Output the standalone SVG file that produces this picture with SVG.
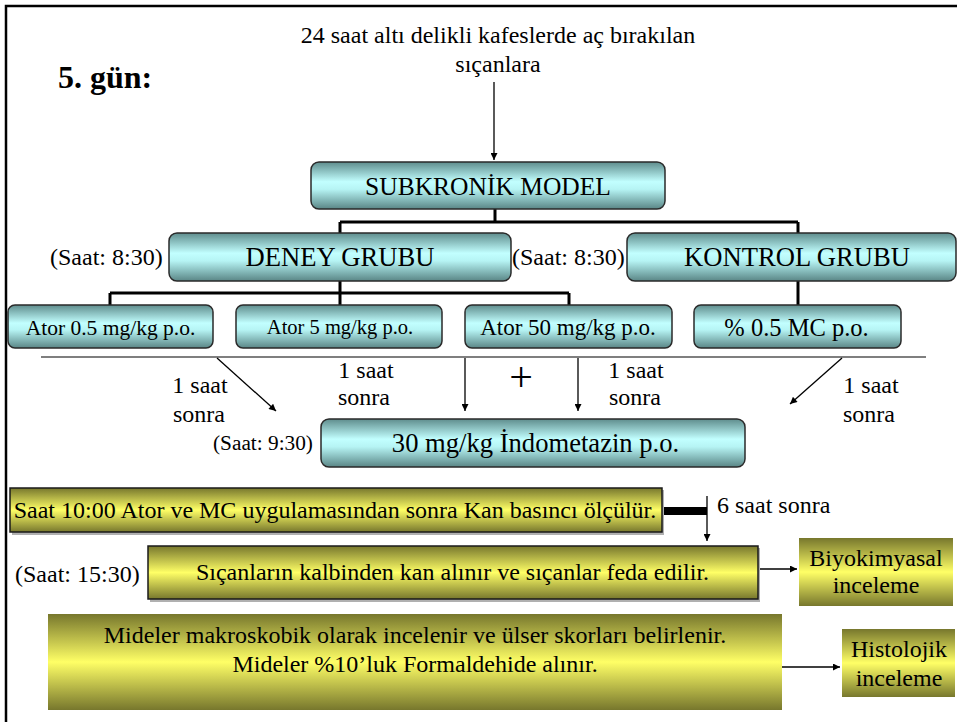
<svg xmlns="http://www.w3.org/2000/svg" width="957" height="722" viewBox="0 0 957 722">
<style>
text{font-family:"Liberation Serif","DejaVu Serif",serif;fill:#000}
.c{text-anchor:middle}
.tb{stroke:#2a2a2a;stroke-width:1.5;fill:url(#teal)}
.yb{stroke:#1a1a1a;stroke-width:1.5;fill:url(#yel)}
.yn{fill:url(#yel)}
.sh{fill:#b0b0b0}
.tree{stroke:#000;stroke-width:3;fill:none}
.ar{stroke:#000;stroke-width:1.3;fill:none;marker-end:url(#arr)}
</style>
<defs>
<linearGradient id="teal" x1="0" y1="0" x2="0" y2="1">
<stop offset="0" stop-color="#5f8d8d"/>
<stop offset="0.42" stop-color="#c2ffff"/>
<stop offset="0.58" stop-color="#b6f4f4"/>
<stop offset="1" stop-color="#5a8686"/>
</linearGradient>
<linearGradient id="yel" x1="0" y1="0" x2="0" y2="1">
<stop offset="0" stop-color="#77772d"/>
<stop offset="0.5" stop-color="#ffff66"/>
<stop offset="1" stop-color="#77772d"/>
</linearGradient>
<marker id="arr" viewBox="0 0 10 10" refX="10" refY="5" markerWidth="8" markerHeight="7" markerUnits="userSpaceOnUse" orient="auto">
<path d="M0,0 L10,5 L0,10 z" fill="#000"/>
</marker>
</defs>
<rect x="6" y="6" width="1000" height="800" fill="none" stroke="#000" stroke-width="2.5"/>

<g id="connectors">
<line class="ar" x1="494" y1="82" x2="494" y2="160"/>
<path class="tree" d="M495,209 V222 M340,222 H798 M340,222 V233 M798,222 V233"/>
<path class="tree" d="M340,281 V293 M110,293 H569 M110,293 V305 M340,293 V305 M569,293 V305"/>
<path class="tree" d="M798,281 V305"/>
<line x1="41" y1="357" x2="926" y2="357" stroke="#555" stroke-width="1.3"/>
<line class="ar" x1="217" y1="358" x2="276" y2="411"/>
<line class="ar" x1="465" y1="358" x2="465" y2="411"/>
<line class="ar" x1="578" y1="358" x2="578" y2="411"/>
<line class="ar" x1="842" y1="358" x2="790" y2="404"/>
<rect x="662" y="507" width="45" height="8" fill="#000"/>
<line class="ar" x1="707" y1="496" x2="707" y2="541"/>
<line class="ar" x1="758" y1="569" x2="797" y2="569"/>
<line class="ar" x1="782" y1="667" x2="840" y2="667"/>
</g>

<g id="title"><text x="58" y="88" font-size="32" font-weight="bold">5. gün:</text></g>
<g id="intro">
<text class="c" x="498" y="43" font-size="24">24 saat altı delikli kafeslerde aç bırakılan</text>
<text class="c" x="498" y="72" font-size="24">sıçanlara</text>
</g>
<g id="subkronik"><rect class="tb" x="311" y="162" width="354" height="47" rx="8"/><text class="c" x="488" y="195" font-size="25.5">SUBKRONİK MODEL</text></g>
<g id="saat830a"><text x="50" y="265" font-size="24">(Saat: 8:30)</text></g>
<g id="deney"><rect class="tb" x="169" y="233" width="342" height="48" rx="8"/><text class="c" x="340" y="266" font-size="26.6">DENEY GRUBU</text></g>
<g id="saat830b"><text x="512" y="265" font-size="24">(Saat: 8:30)</text></g>
<g id="kontrol"><rect class="tb" x="627" y="233" width="329" height="48" rx="8"/><text class="c" x="797" y="266" font-size="26.6">KONTROL GRUBU</text></g>
<g id="ator05"><rect class="tb" x="8" y="305" width="205" height="43" rx="7"/><text class="c" x="110.5" y="335" font-size="21.5">Ator 0.5 mg/kg p.o.</text></g>
<g id="ator5"><rect class="tb" x="236" y="305" width="206" height="43" rx="7"/><text class="c" x="340" y="334" font-size="20.5">Ator 5 mg/kg p.o.</text></g>
<g id="ator50"><rect class="tb" x="465" y="305" width="207" height="43" rx="7"/><text class="c" x="568" y="335" font-size="23">Ator 50 mg/kg p.o.</text></g>
<g id="mc"><rect class="tb" x="694" y="305" width="207" height="43" rx="7"/><text class="c" x="796.5" y="336" font-size="24.5">% 0.5 MC p.o.</text></g>
<g id="lbl1"><text class="c" x="200" y="393" font-size="24">1 saat</text><text class="c" x="199" y="422" font-size="24">sonra</text></g>
<g id="lbl2"><text class="c" x="366" y="378" font-size="24">1 saat</text><text class="c" x="364" y="405" font-size="24">sonra</text></g>
<g id="plus"><text class="c" x="521" y="391" font-size="42">+</text></g>
<g id="lbl3"><text class="c" x="636" y="378" font-size="24">1 saat</text><text class="c" x="635" y="405" font-size="24">sonra</text></g>
<g id="lbl4"><text class="c" x="871" y="393" font-size="24">1 saat</text><text class="c" x="869" y="422" font-size="24">sonra</text></g>
<g id="saat930"><text x="213" y="450" font-size="21.3">(Saat: 9:30)</text></g>
<g id="indometazin"><rect class="tb" x="321" y="419" width="424" height="48" rx="8"/><text class="c" x="535.5" y="452" font-size="26.6">30 mg/kg İndometazin p.o.</text></g>
<g id="kanbasinci"><rect class="sh" x="12" y="490" width="652" height="45"/><rect class="yb" x="10" y="488" width="652" height="44"/><text class="c" x="335" y="518" font-size="24">Saat 10:00 Ator ve MC uygulamasından sonra Kan basıncı ölçülür.</text></g>
<g id="altisaat"><text x="717" y="513" font-size="24">6 saat sonra</text></g>
<g id="saat1530"><text x="15" y="582" font-size="24">(Saat: 15:30)</text></g>
<g id="kan"><rect class="sh" x="150" y="548" width="610" height="54"/><rect class="yb" x="148" y="546" width="610" height="53"/><text class="c" x="452.5" y="580" font-size="24">Sıçanların kalbinden kan alınır ve sıçanlar feda edilir.</text></g>
<g id="biyokimyasal"><rect class="yn" x="799" y="538" width="154" height="68"/><text class="c" x="876" y="566" font-size="24">Biyokimyasal</text><text class="c" x="876" y="593" font-size="24">inceleme</text></g>
<g id="mideler"><rect class="yn" x="48" y="614" width="734" height="96"/><text class="c" x="415" y="643" font-size="24">Mideler makroskobik olarak incelenir ve ülser skorları belirlenir.</text><text class="c" x="415" y="672" font-size="24">Mideler %10’luk Formaldehide alınır.</text></g>
<g id="histolojik"><rect class="yn" x="842" y="629" width="113" height="68"/><text class="c" x="899" y="657" font-size="24">Histolojik</text><text class="c" x="899" y="686" font-size="24">inceleme</text></g>
</svg>
